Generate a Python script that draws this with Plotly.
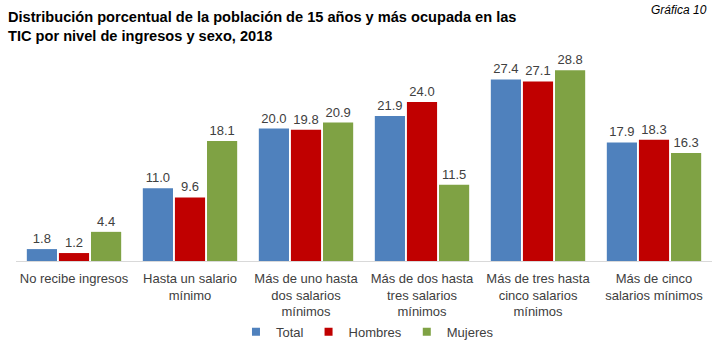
import plotly.graph_objects as go

categories = [
    "No recibe ingresos",
    "Hasta un salario<br>mínimo",
    "Más de uno hasta<br>dos salarios<br>mínimos",
    "Más de dos hasta<br>tres salarios<br>mínimos",
    "Más de tres hasta<br>cinco salarios<br>mínimos",
    "Más de cinco<br>salarios mínimos",
]
total = [1.8, 11.0, 20.0, 21.9, 27.4, 17.9]
hombres = [1.2, 9.6, 19.8, 24.0, 27.1, 18.3]
mujeres = [4.4, 18.1, 20.9, 11.5, 28.8, 16.3]

series = [("Total", total, "#4F81BD"), ("Hombres", hombres, "#C00000"), ("Mujeres", mujeres, "#7FA244")]

FONT = "Liberation Sans, Arial, sans-serif"

fig = go.Figure()
for name, vals, color in series:
    fig.add_trace(go.Bar(
        name=name, x=categories, y=vals,
        marker=dict(color=color, line=dict(width=0)),
        text=[f"{v:.1f}" for v in vals], textposition="outside",
        textfont=dict(family=FONT, size=13, color="#404040"),
        cliponaxis=False, showlegend=False, legendgroup=name,
    ))
    # small square legend key for each series
    fig.add_trace(go.Scatter(
        name=name, x=[None], y=[None], mode="markers",
        marker=dict(symbol="square", size=8, color=color),
        legendgroup=name, showlegend=True,
    ))

fig.update_layout(
    width=716, height=341,
    margin=dict(l=16, r=4, t=49, b=80, autoexpand=False),
    paper_bgcolor="white", plot_bgcolor="white",
    barmode="group", bargap=0.17, bargroupgap=0.06,
    font=dict(family=FONT, size=13, color="#404040"),
    showlegend=True,
    legend=dict(orientation="h", x=0.505, xanchor="center",
                yref="container", y=0.027, yanchor="middle",
                font=dict(size=13, color="#404040"), itemwidth=30, traceorder="normal",
                tracegroupgap=0),
    xaxis=dict(showline=True, linecolor="#D9D9D9", linewidth=1, ticks="",
               tickfont=dict(size=13, color="#404040"), ticklabelstandoff=5,
               automargin=False, fixedrange=True),
    yaxis=dict(range=[0, 32], visible=False, showgrid=False, zeroline=False,
               automargin=False),
    annotations=[
        dict(text="<b>Distribución porcentual de la población de 15 años y más ocupada en las<br>TIC por nivel de ingresos y sexo, 2018</b>",
             xref="paper", yref="paper", x=-0.015, y=1.197, xanchor="left", yanchor="top",
             align="left", showarrow=False, font=dict(family=FONT, size=14.6, color="#000000")),
        dict(text="<i>Gráfica 10</i>", xref="paper", yref="paper", x=0.995, y=1.225,
             xanchor="right", yanchor="top", showarrow=False,
             font=dict(family=FONT, size=12, color="#000000")),
    ],
)

fig.write_html("out.html")
